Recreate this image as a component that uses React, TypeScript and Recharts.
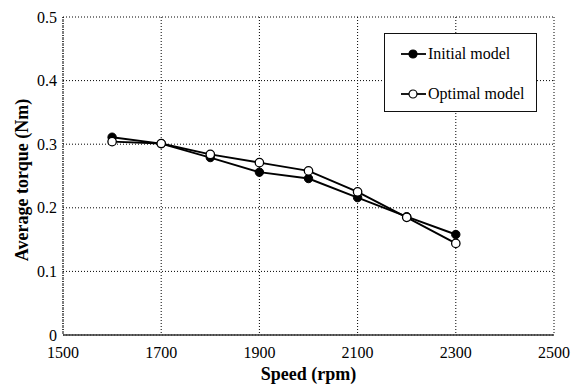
import { LineChart, Line, XAxis, YAxis, CartesianGrid, Legend, Label } from 'recharts'

const speeds = [1600, 1700, 1800, 1900, 2000, 2100, 2200, 2300]
const initialModel = [0.311, 0.301, 0.279, 0.256, 0.246, 0.216, 0.186, 0.158]
const optimalModel = [0.304, 0.301, 0.284, 0.271, 0.258, 0.225, 0.185, 0.144]
const xTicks = [1500, 1700, 1900, 2100, 2300, 2500]
const yTicks = [0, 0.1, 0.2, 0.3, 0.4, 0.5]
const seriesNames = ['Initial model', 'Optimal model']

const data = speeds.map((speed, i) => ({
  speed,
  initial: initialModel[i],
  optimal: optimalModel[i],
}))

const font = "'Liberation Serif', 'Times New Roman', serif"

function LegendMarker({ filled }: { filled: boolean }) {
  return (
    <svg width={26} height={12} style={{ display: 'block' }}>
      <line x1={0} y1={6} x2={25} y2={6} stroke="#000" strokeWidth={1.8} />
      <circle cx={12} cy={6} r={4} fill={filled ? '#000' : '#fff'} stroke="#000" strokeWidth={1.2} />
    </svg>
  )
}

function LegendBox() {
  return (
    <div
      style={{
        position: 'relative',
        width: 153,
        height: 79,
        border: '1.5px solid #111',
        boxSizing: 'border-box',
        background: '#fff',
        fontFamily: font,
        fontSize: 16,
        color: '#000',
      }}
    >
      {seriesNames.map((name, i) => (
        <div
          key={name}
          style={{
            position: 'absolute',
            left: 16,
            top: 11 + i * 40,
            height: 18,
            display: 'flex',
            alignItems: 'center',
            whiteSpace: 'nowrap',
          }}
        >
          <LegendMarker filled={i === 0} />
          <span style={{ marginLeft: 1 }}>{name}</span>
        </div>
      ))}
    </div>
  )
}

export default function App() {
  return (
    <div style={{ position: 'absolute', left: 0, top: 0, background: '#fff', fontFamily: font }}>
      <LineChart
        width={579}
        height={385}
        data={data}
        margin={{ top: 17, right: 25, bottom: 0, left: 0 }}
        style={{ fontFamily: font }}
      >
        <CartesianGrid stroke="#000" strokeDasharray="1 2" strokeWidth={1} />
        <XAxis
          dataKey="speed"
          type="number"
          domain={[1500, 2500]}
          ticks={xTicks}
          height={50}
          tickLine={false}
          tickSize={0}
          tickMargin={12}
          axisLine={{ stroke: '#333', strokeWidth: 1.5 }}
          tick={{ fill: '#000', fontSize: 16, style: { fontFamily: font } }}
        >
          <Label
            value="Speed (rpm)"
            position="insideBottom"
            offset={5}
            style={{ fontSize: 18, fontWeight: 'bold', fill: '#000', fontFamily: font }}
          />
        </XAxis>
        <YAxis
          type="number"
          domain={[0, 0.5]}
          ticks={yTicks}
          width={63}
          tickLine={false}
          tickSize={0}
          tickMargin={6}
          axisLine={{ stroke: '#000', strokeDasharray: '1 1' }}
          tick={{ fill: '#000', fontSize: 16, style: { fontFamily: font } }}
        >
          <Label
            value="Average torque (Nm)"
            position="center"
            angle={-90}
            dx={-10}
            dy={4}
            style={{ fontSize: 18, fontWeight: 'bold', fill: '#000', fontFamily: font }}
          />
        </YAxis>
        <Legend
          layout="horizontal"
          verticalAlign="middle"
          align="center"
          content={() => <LegendBox />}
          wrapperStyle={{ left: 384, top: 33, width: 153, height: 79 }}
        />
        <Line
          type="linear"
          dataKey="initial"
          name={seriesNames[0]}
          stroke="#000"
          strokeWidth={1.9}
          dot={{ r: 4.2, fill: '#000', stroke: '#000', strokeWidth: 1 }}
          isAnimationActive={false}
        />
        <Line
          type="linear"
          dataKey="optimal"
          name={seriesNames[1]}
          stroke="#000"
          strokeWidth={1.9}
          dot={{ r: 4.2, fill: '#fff', stroke: '#000', strokeWidth: 1.3 }}
          isAnimationActive={false}
        />
      </LineChart>
    </div>
  )
}
